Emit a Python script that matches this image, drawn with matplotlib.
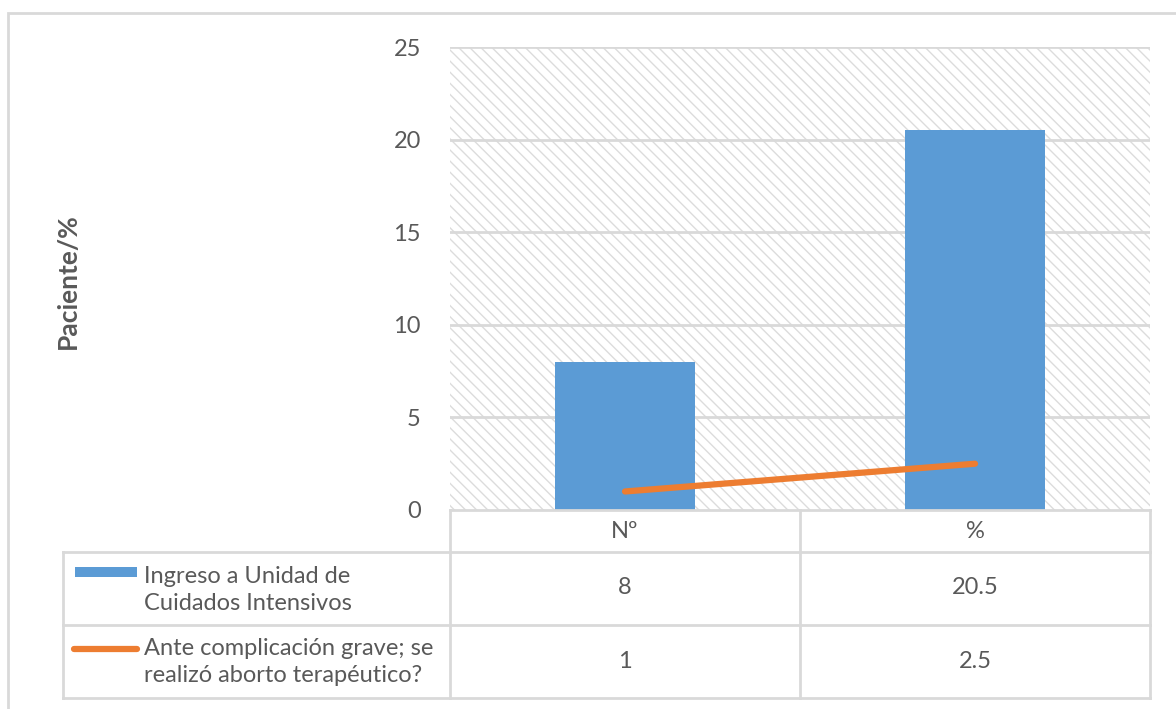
import matplotlib
matplotlib.use("Agg")
import matplotlib.pyplot as plt
from matplotlib.patches import Rectangle
from matplotlib.lines import Line2D
import matplotlib.transforms as mtransforms

categories = ["Nº", "%"]
series_names = ["Ingreso a Unidad de\nCuidados Intensivos",
                "Ante complicación grave; se\nrealizó aborto terapéutico?"]
uci_values = [8, 20.5]
aborto_values = [1, 2.5]
uci_labels = ["8", "20.5"]
aborto_labels = ["1", "2.5"]
y_ticks = [0, 5, 10, 15, 20, 25]
y_label = "Paciente/%"

BLUE = "#5B9BD5"
ORANGE = "#ED7D31"
GRID = "#D9D9D9"
HATCH = "#DCDCDC"
TEXT = "#595959"
FS = 17

plt.rcParams['font.family'] = ['Lato', 'DejaVu Sans']
plt.rcParams['hatch.linewidth'] = 1.0

W, H = 1176, 709
fig = plt.figure(figsize=(W / 100, H / 100), dpi=100)

def fx(px):
    return px / W

def fy(py):
    return 1 - py / H

# outer chart border
fig.add_artist(Rectangle((fx(8), fy(760)), fx(1200) - fx(8), fy(13) - fy(760),
                         transform=fig.transFigure, fill=False, edgecolor=GRID, lw=2))

ax = fig.add_axes([fx(450), fy(510), fx(1150) - fx(450), fy(47) - fy(510)])
ax.set_xlim(-0.5, 1.5)
ax.set_ylim(0, 25)
ax.patch.set_visible(False)

# hatched plot-area background
ax.add_patch(Rectangle((0, 0), 1, 1, transform=ax.transAxes, facecolor="white",
                       edgecolor=HATCH, linewidth=0, hatch="\\\\\\", zorder=0))

for t in y_ticks[1:]:
    ax.axhline(t, color=GRID, lw=2, zorder=1)

x = list(range(len(categories)))
ax.bar(x, uci_values, width=0.4, color=BLUE, zorder=2)
ax.plot(x, aborto_values, color=ORANGE, lw=4.5, solid_capstyle="round", zorder=3)

ax.set_yticks(y_ticks)
ax.set_yticklabels([str(t) for t in y_ticks], fontsize=FS, color=TEXT)
ax.tick_params(axis="y", length=0, pad=21)
ax.set_xticks([])
for s in ax.spines.values():
    s.set_visible(False)

fig.text(fx(68), fy(281), y_label, rotation=90, fontsize=19, fontweight="bold",
         color=TEXT, ha="center", va="center")

# data table
blend = mtransforms.blended_transform_factory(ax.transData, fig.transFigure)
rows_y = [510, 552, 625, 698]
left_legend = 63
x_left, x_mid, x_right = 450, 800, 1150

def hline(py, x0, x1):
    fig.add_artist(Line2D([fx(x0), fx(x1)], [fy(py), fy(py)], transform=fig.transFigure,
                          color=GRID, lw=2))

def vline(px, y0, y1):
    fig.add_artist(Line2D([fx(px), fx(px)], [fy(y0), fy(y1)], transform=fig.transFigure,
                          color=GRID, lw=2))

hline(510, x_left, x_right)
for py in rows_y[1:]:
    hline(py, left_legend, x_right)
for px in (x_left, x_mid, x_right):
    vline(px, 510, 698)
vline(left_legend, 552, 698)

for xi, cat in zip(x, categories):
    fig.text(xi, fy(531), cat, transform=blend, ha="center", va="center",
             fontsize=FS, color=TEXT)
for xi, lab in zip(x, uci_labels):
    fig.text(xi, fy(588), lab, transform=blend, ha="center", va="center",
             fontsize=FS, color=TEXT)
for xi, lab in zip(x, aborto_labels):
    fig.text(xi, fy(661), lab, transform=blend, ha="center", va="center",
             fontsize=FS, color=TEXT)

# legend keys
fig.add_artist(Rectangle((fx(75), fy(577)), fx(137) - fx(75), fy(567) - fy(577),
                         transform=fig.transFigure, facecolor=BLUE, edgecolor="none"))
fig.add_artist(Line2D([fx(74), fx(137)], [fy(649), fy(649)], transform=fig.transFigure,
                      color=ORANGE, lw=4.5, solid_capstyle="round"))
fig.text(fx(144), fy(590), series_names[0], ha="left", va="center", fontsize=FS,
         color=TEXT, linespacing=1.35)
fig.text(fx(144), fy(662), series_names[1], ha="left", va="center", fontsize=FS,
         color=TEXT, linespacing=1.35)

fig.savefig("out.png", dpi=100, facecolor="white")
